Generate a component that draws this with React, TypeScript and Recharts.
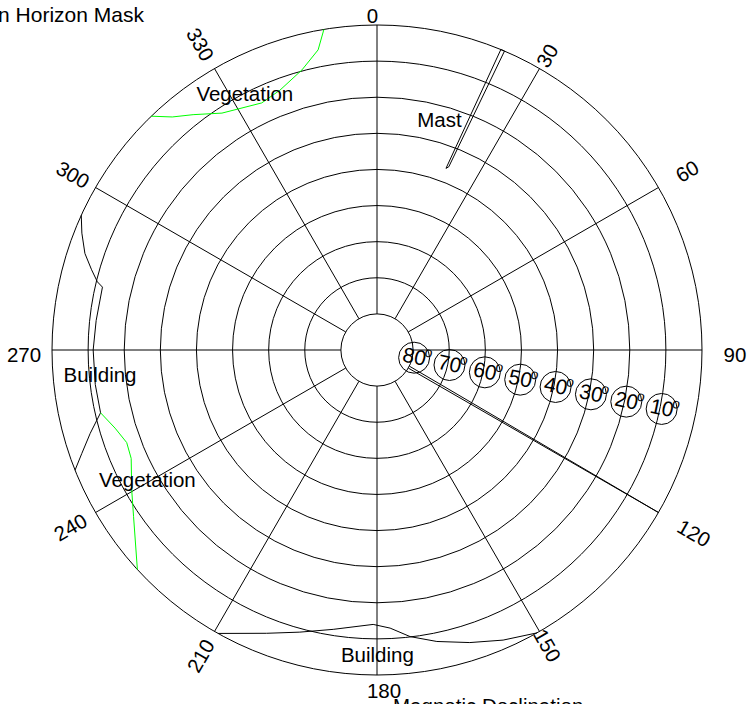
import React from "react"
import {
  RadarChart,
  PolarGrid,
  PolarAngleAxis,
  PolarRadiusAxis,
  ScatterChart,
  Scatter,
  XAxis,
  YAxis
} from "recharts"

const W = 747
const H = 704
const CX = 377
const CY = 350
const R = 325
const FONT = '"Liberation Sans", Arial, Helvetica, sans-serif'

// azimuth spokes (deg, clockwise from north)
const AZIMUTH_TICKS = [0, 30, 60, 90, 120, 150, 180, 210, 240, 270, 300, 330]
// rings are zenith distance 10..90 (elevation 80..0)
const ZENITH_DOMAIN = [10, 90]
const ELEVATION_LABELS = [80, 70, 60, 50, 40, 30, 20, 10]
const ELEVATION_LABEL_AZ = 101.7

// horizon mask outlines as [azimuth, elevation]
const VEG_NORTH = [
  [350.6, 0], [348.9, 5.3], [345, 9.7], [339.5, 13.2], [335, 14.5],
  [326.8, 11.6], [322, 7.3], [318.7, 4.1], [316, 0]
]
const MAST = [[22.4, 0], [20.8, 36.2], [21.4, 35.5], [23.1, 0]]
const BUILDING_WEST = [
  [294.5, 0], [291.6, 2.1], [288.3, 4.8], [285.7, 7.9], [283.7, 10.3],
  [282.9, 12.0], [276, 11.8], [270, 11.4], [263, 11.4], [257.2, 11.5],
  [253.8, 7.3], [250.7, 3.4], [248.3, 0]
]
const VEG_WEST = [
  [257.2, 11.5], [253.4, 14.3], [249.7, 16.1], [246.2, 15.6],
  [240.3, 11.8], [235.6, 8.3], [227.5, 0]
]
const BUILDING_SOUTH = [
  [209.3, 0], [201.3, 5.8], [195.3, 9.0], [188.9, 11.7], [180.8, 14.0],
  [177.3, 12.9], [173.4, 10.1], [168.4, 7.6], [162.4, 5.0], [156.5, 2.4],
  [150.5, 0]
]
const DECLINATION = [[116.5, 80], [120, 0]]

// text labels in plot units (x east, y north)
const ANNOTATIONS = [
  { x: -36.6, y: 69.0, text: "Vegetation" },
  { x: 17.3, y: 61.8, text: "Mast" },
  { x: -76.7, y: -8.9, text: "Building" },
  { x: -63.6, y: -37.9, text: "Vegetation" },
  { x: 0.1, y: -86.4, text: "Building" }
]

// azimuth label placement: [radius px, dx, dy]
const TICK_PLACE: Record<number, number[]> = {
  0: [335, -4.5, 0],
  30: [340, 0, 0],
  60: [358, 0, 0],
  90: [358, 0, 4],
  120: [366, 0, 0],
  150: [341, 0, 0],
  180: [340.5, 7, 0],
  210: [353, 0, 0],
  240: [354, 0, 0],
  270: [353, 0, 4],
  300: [351, 0, 0],
  330: [353, 0, 0]
}

const toXY = ([az, el]: number[]) => {
  const zd = 90 - el
  const a = (az * Math.PI) / 180
  return { x: zd * Math.sin(a), y: zd * Math.cos(a) }
}

const gridData = AZIMUTH_TICKS.map((az) => ({ az }))
const elevationData = ELEVATION_LABELS.map((el) => ({
  ...toXY([ELEVATION_LABEL_AZ, el - 0.5]),
  label: el
}))

const renderAzTick = (props: any) => {
  const az = Number(props.payload.value)
  const [dist, dx, dy] = TICK_PLACE[az] ?? [350, 0, 0]
  const a = (az * Math.PI) / 180
  const x = CX + dist * Math.sin(a) + dx
  const y = CY - dist * Math.cos(a) + dy
  let rot = 0
  if (az % 90 !== 0) rot = az < 180 ? az - 90 : az - 270
  return (
    <text
      x={x}
      y={y}
      transform={`rotate(${rot} ${x} ${y})`}
      textAnchor="middle"
      dominantBaseline="central"
      fontSize={20.5}
      fontFamily={FONT}
      fill="#000"
    >
      {az}
    </text>
  )
}

const NoDot = () => <g />

const ElevationMarker = (props: any) => {
  const { cx, cy, payload } = props
  return (
    <g>
      <circle cx={cx} cy={cy} r={15.5} fill="none" stroke="#000" strokeWidth={1} />
      <g transform={`rotate(${ELEVATION_LABEL_AZ - 90} ${cx} ${cy})`}>
        <text x={cx} y={cy + 6} textAnchor="middle" fontSize={21} fontFamily={FONT} fill="#000">
          {payload.label}
        </text>
        <text x={cx + 9.4} y={cy - 3.3} fontSize={14} fontFamily={FONT} fill="#000">
          o
        </text>
      </g>
    </g>
  )
}

const Annotation = (props: any) => (
  <text
    x={props.cx}
    y={props.cy}
    textAnchor="middle"
    fontSize={20.5}
    fontFamily={FONT}
    fill="#000"
  >
    {props.payload.text}
  </text>
)

const outlines = [
  { name: "vegNorth", pts: VEG_NORTH, color: "#00ff00" },
  { name: "mast", pts: [...MAST, MAST[0]], color: "#000" },
  { name: "buildingWest", pts: BUILDING_WEST, color: "#000" },
  { name: "vegWest", pts: VEG_WEST, color: "#00ff00" },
  { name: "buildingSouth", pts: BUILDING_SOUTH, color: "#000" },
  { name: "declination", pts: DECLINATION, color: "#000" }
]

export default function App() {
  return (
    <div style={{ position: "absolute", left: 0, top: 0, width: W, height: H, background: "#fff", overflow: "hidden" }}>
      <div style={{ position: "absolute", left: 0, top: 0 }}>
        <RadarChart
          width={W}
          height={H}
          cx={CX}
          cy={CY}
          innerRadius={R / 9}
          outerRadius={R}
          data={gridData}
          margin={{ top: 0, right: 0, bottom: 0, left: 0 }}
        >
          <PolarGrid gridType="circle" stroke="#000" strokeWidth={1} />
          <PolarAngleAxis dataKey="az" tick={renderAzTick} axisLine={false} tickLine={false} />
          <PolarRadiusAxis
            type="number"
            domain={ZENITH_DOMAIN}
            tickCount={9}
            allowDataOverflow
            tick={false}
            axisLine={false}
          />
        </RadarChart>
      </div>
      <div style={{ position: "absolute", left: 0, top: 0 }}>
        <ScatterChart
          width={W}
          height={H}
          margin={{ top: CY - R, right: W - CX - R, bottom: H - CY - R, left: CX - R }}
        >
          <XAxis type="number" dataKey="x" domain={[-90, 90]} allowDataOverflow hide />
          <YAxis type="number" dataKey="y" domain={[-90, 90]} allowDataOverflow hide />
          {outlines.map((o) => (
            <Scatter
              key={o.name}
              data={o.pts.map(toXY)}
              fill={o.color}
              line={{ stroke: o.color, strokeWidth: 1 }}
              shape={NoDot}
              isAnimationActive={false}
            />
          ))}
          <Scatter data={elevationData} shape={ElevationMarker} isAnimationActive={false} />
          <Scatter data={ANNOTATIONS} shape={Annotation} isAnimationActive={false} />
        </ScatterChart>
      </div>
      <svg width={W} height={H} style={{ position: "absolute", left: 0, top: 0, pointerEvents: "none" }}>
        <text x={144} y={22} textAnchor="end" fontSize={21} fontFamily={FONT} fill="#000">
          Station Horizon Mask
        </text>
        <text x={393} y={713} fontSize={20.5} fontFamily={FONT} fill="#000">
          Magnetic Declination
        </text>
      </svg>
    </div>
  )
}
